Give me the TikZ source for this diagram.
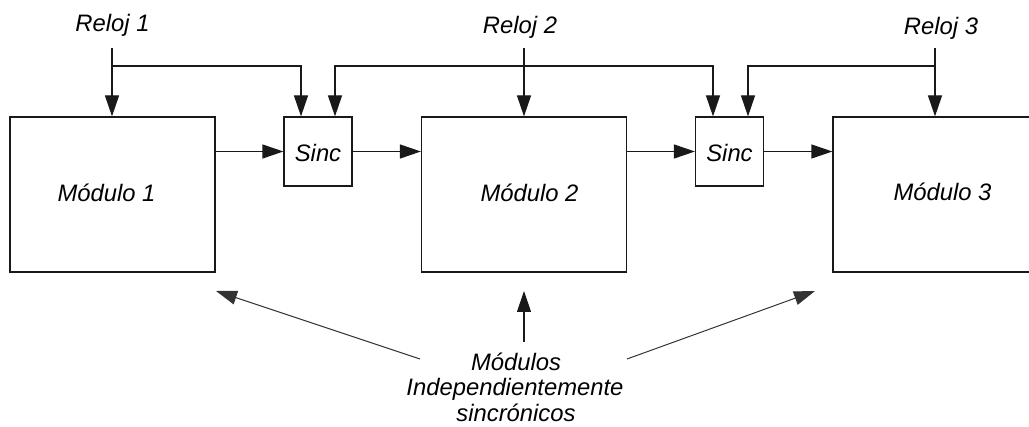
\documentclass[tikz,border=0pt]{standalone}
\usepackage{fontspec}
\setmainfont{Liberation Sans}
\usetikzlibrary{arrows.meta}
\begin{document}
\begin{tikzpicture}[x=1pt,y=-1pt,
  every node/.style={font=\fontsize{23.8pt}{25.5pt}\selectfont\itshape, inner sep=0pt},
  wire/.style={line width=1.2pt, black!90},
  arr/.style={wire, -{Triangle[length=21pt,width=14pt]}},
  modbox/.style={draw, line width=1.2pt, black!90, minimum width=205pt, minimum height=155pt},
  syncbox/.style={draw, line width=1.2pt, black!90, minimum width=68pt, minimum height=69pt},
  lbl/.style={anchor=base}]
\useasboundingbox (0,0) rectangle (1029,427);

% processing modules and synchronisers
\node[modbox] (m1) at (112.5,194.5) {};
\node[modbox] (m2) at (524,194.5) {};
\node[modbox] (m3) at (935.5,194.5) {};
\node[syncbox] (s1) at (318,151.5) {};
\node[syncbox] (s2) at (729.5,151.5) {};

\node[lbl] (t1) at (106.5,202) {Módulo 1};
\node[lbl] (t2) at (529.5,202) {Módulo 2};
\node[lbl] (t3) at (942.5,201) {Módulo 3};
\node[lbl] (ts1) at (318,162) {Sinc};
\node[lbl] (ts2) at (729.5,162) {Sinc};

% clock labels
\node[lbl] (r1) at (112.5,32) {Reloj 1};
\node[lbl] (r2) at (520,33.5) {Reloj 2};
\node[lbl] (r3) at (941,35) {Reloj 3};

\coordinate (c1) at (112,48);
\coordinate (c2) at (524,48);
\coordinate (c3) at (935,48);
\coordinate (j1) at (112,66);
\coordinate (j2) at (524,66);
\coordinate (j3) at (935,66);

% clock distribution
\draw[arr] (c1) -- (c1 |- m1.north);
\draw[arr] (j1) -| ([xshift=-17pt]s1.north);
\draw[arr] (c2) -- (c2 |- m2.north);
\draw[arr] (j2) -| ([xshift=17pt]s1.north);
\draw[arr] (j2) -| ([xshift=-16.5pt]s2.north);
\draw[arr] (c3) -- (c3 |- m3.north);
\draw[arr] (j3) -| ([xshift=18.5pt]s2.north);

% data path
\draw[arr] (s1.west -| m1.east) -- (s1.west);
\draw[arr] (s1.east) -- (s1.east -| m2.west);
\draw[arr] (s2.west -| m2.east) -- (s2.west);
\draw[arr] (s2.east) -- (s2.east -| m3.west);

% annotation, one node per line
\node[lbl] (n1) at (516,371) {Módulos};
\node[lbl] (n2) at (515,396) {Independientemente};
\node[lbl] (n3) at (516,421.5) {sincrónicos};
\coordinate (aL) at (420,359);
\coordinate (aM) at (524,342);
\coordinate (aR) at (627,359);
\coordinate (pL) at (216,291);
\coordinate (pM) at (524,291);
\coordinate (pR) at (815,291);
\draw[arr, line width=1pt, black!80] (aL) -- (pL);
\draw[arr] (aM) -- (pM);
\draw[arr, line width=1pt, black!80] (aR) -- (pR);
\end{tikzpicture}
\end{document}
